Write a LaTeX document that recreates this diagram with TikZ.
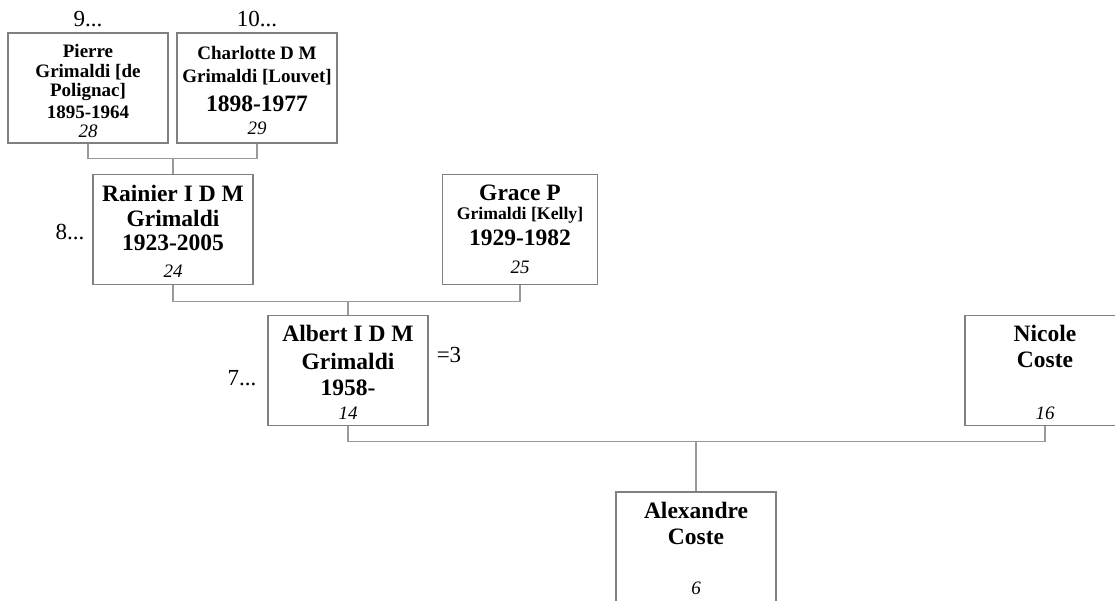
\documentclass[tikz,border=0pt]{standalone}
\usepackage{fontspec}
\setmainfont{Liberation Serif}
\usetikzlibrary{calc}
\definecolor{boxgray}{gray}{0.5}
\definecolor{linegray}{gray}{0.6}
\begin{document}
\begin{tikzpicture}[x=1pt,y=-1pt,
  person/.style={draw=boxgray, line width=1.3pt, minimum width=160pt, minimum height=110pt, inner sep=0pt, fill=white},
  link/.style={draw=linegray, line width=1.3pt},
  nm/.style={font=\bfseries\fontsize{23.5}{26}\selectfont, inner sep=0pt},
  nms/.style={font=\bfseries\fontsize{19}{21}\selectfont, inner sep=0pt},
  nmxs/.style={font=\bfseries\fontsize{17.7}{20}\selectfont, inner sep=0pt},
  num/.style={font=\itshape\fontsize{19}{21}\selectfont, inner sep=0pt},
  lbl/.style={font=\fontsize{23}{25}\selectfont, inner sep=0pt}]
\useasboundingbox (0,0) rectangle (1115,600);
\clip (0,0) rectangle (1115,600);
% boxes
\node[person] (pierre) at (88,88) {};
\node[person] (charlotte) at (257,88) {};
\node[person] (rainier) at (173,229.5) {};
\node[person, minimum width=155pt] (grace) at (520,229.5) {};
\node[person] (albert) at (348,370.5) {};
\node[person] (nicole) at (1045,370.5) {};
\node[person] (alexandre) at (696,547) {};
% connectors
\draw[link] (pierre.south) -- ++(0,15) coordinate (pc) -| (charlotte.south);
\draw[link] (rainier.north) -- (rainier.north |- pc);
\draw[link] (rainier.south) -- ++(0,16) coordinate (rg) -| (grace.south);
\draw[link] (albert.north) -- (albert.north |- rg);
\draw[link] (albert.south) -- ++(0,15) coordinate (an) -| (nicole.south);
\draw[link] (alexandre.north) -- (alexandre.north |- an);
% Pierre
\node[nms] (p1) at (88,51) {Pierre};
\node[nms] (p2) at (88,72) {Grimaldi [de};
\node[nms] (p3) at (88,92) {Polignac]};
\node[nms] (p4) at (88,112) {1895-1964};
\node[num] (p5) at (88,131) {28};
% Charlotte
\node[nms] (c1) at (257,53) {Charlotte D M};
\node[nms] (c2) at (257,77) {Grimaldi [Louvet]};
\node[nm] (c3) at (257,104) {1898-1977};
\node[num] (c4) at (257,128) {29};
% Rainier
\node[nm] (r1) at (173,193) {Rainier I D M};
\node[nm] (r2) at (173,218) {Grimaldi};
\node[nm] (r3) at (173,243) {1923-2005};
\node[num] (r4) at (173,271) {24};
% Grace
\node[nm] (g1) at (520,193) {Grace P};
\node[nmxs] (g2) at (520,215) {Grimaldi [Kelly]};
\node[nm] (g3) at (520,238) {1929-1982};
\node[num] (g4) at (520,267) {25};
% Albert
\node[nm] (a1) at (348,333) {Albert I D M};
\node[nm] (a2) at (348,361) {Grimaldi};
\node[nm] (a3) at (348,388) {1958-};
\node[num] (a4) at (348,413) {14};
% Nicole
\node[nm] (n1) at (1045,333) {Nicole};
\node[nm] (n2) at (1045,360) {Coste};
\node[num] (n3) at (1045,413) {16};
% Alexandre
\node[nm] (x1) at (696,510) {Alexandre};
\node[nm] (x2) at (696,537) {Coste};
\node[num] (x3) at (696,588) {6};
% labels
\node[lbl] (l9) at (88,19) {9...};
\node[lbl] (l10) at (257,19) {10...};
\node[lbl] (l8) at (70,232) {8...};
\node[lbl] (l7) at (242,378) {7...};
\node[lbl] (l3) at (449,355) {=3};
\end{tikzpicture}
\end{document}
